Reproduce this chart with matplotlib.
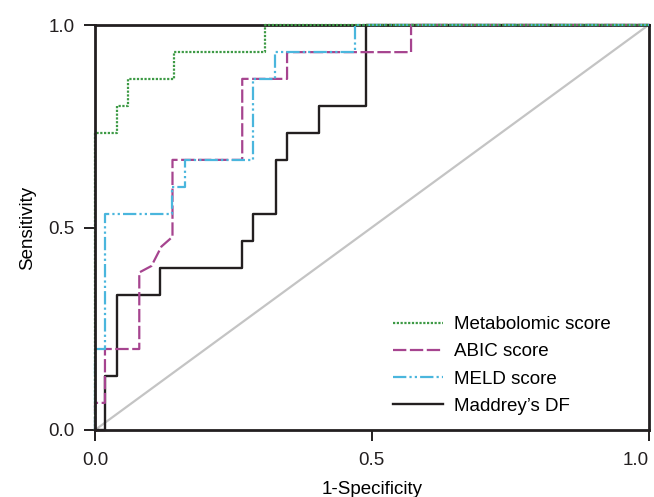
import matplotlib
matplotlib.use("Agg")
import matplotlib.pyplot as plt
from matplotlib.transforms import ScaledTranslation

plt.rcParams['font.family'] = ['Liberation Sans', 'DejaVu Sans']

# ROC curve vertices (1-Specificity, Sensitivity)
metab_fpr = [0, 0, 0.039, 0.039, 0.060, 0.060, 0.143, 0.143, 0.307, 0.307, 1.0]
metab_tpr = [0, 0.733, 0.733, 0.800, 0.800, 0.867, 0.867, 0.933, 0.933, 1.0, 1.0]

abic_fpr = [0, 0, 0.018, 0.018, 0.080, 0.080, 0.102, 0.120, 0.140, 0.140, 0.266, 0.266,
            0.347, 0.347, 0.571, 0.571, 1.0]
abic_tpr = [0, 0.067, 0.067, 0.200, 0.200, 0.389, 0.405, 0.453, 0.477, 0.667, 0.667, 0.867,
            0.867, 0.933, 0.933, 1.0, 1.0]

meld_fpr = [0, 0, 0.018, 0.018, 0.140, 0.140, 0.162, 0.162, 0.285, 0.285, 0.326, 0.326,
            0.470, 0.470, 1.0]
meld_tpr = [0, 0.200, 0.200, 0.533, 0.533, 0.600, 0.600, 0.667, 0.667, 0.867, 0.867, 0.933,
            0.933, 1.0, 1.0]

mdf_fpr = [0, 0.018, 0.018, 0.039, 0.039, 0.117, 0.117, 0.265, 0.265, 0.286, 0.286, 0.327,
           0.327, 0.347, 0.347, 0.405, 0.405, 0.489, 0.489, 1.0]
mdf_tpr = [0, 0, 0.133, 0.133, 0.333, 0.333, 0.400, 0.400, 0.467, 0.467, 0.533, 0.533,
           0.667, 0.667, 0.733, 0.733, 0.800, 0.800, 1.0, 1.0]

ref_line = [0, 1]
ticks = [0.0, 0.5, 1.0]
tick_labels = ['0.0', '0.5', '1.0']

FS = 13.5

fig = plt.figure(figsize=(6.54, 4.97), dpi=100)
ax = fig.add_axes([95/654, 67/497, 553.5/654, 405/497])

ax.plot(ref_line, ref_line, color='#c4c4c4', lw=1.6, zorder=2, solid_capstyle='butt')

l4, = ax.plot(mdf_fpr, mdf_tpr, color='#231f20', lw=1.7, zorder=3, clip_on=False,
              label="Maddrey\u2019s DF")
l2, = ax.plot(abic_fpr, abic_tpr, color='#a6448f', lw=1.6, zorder=4, clip_on=False,
              dashes=(6, 1.6), label='ABIC score')
l3, = ax.plot(meld_fpr, meld_tpr, color='#4ab6dd', lw=1.6, zorder=5, clip_on=False,
              dashes=(6, 1.4, 1, 1.4, 1, 1.4), label='MELD score')
l1, = ax.plot(metab_fpr, metab_tpr, color='#3d9a45', lw=1.6, zorder=6, clip_on=False,
              dashes=(1, 0.7), label='Metabolomic score')

ax.set_xlim(0, 1)
ax.set_ylim(0, 1)
ax.set_xticks(ticks)
ax.set_xticklabels(tick_labels)
ax.set_yticks(ticks)
ax.set_yticklabels(tick_labels)
for s in ax.spines.values():
    s.set_linewidth(2.0)
    s.set_color('#231f20')
ax.spines['left'].set_zorder(7)
ax.spines['bottom'].set_zorder(7)
ax.tick_params(direction='out', length=8, width=1.4, labelsize=FS, colors='#231f20')
ax.tick_params(axis='x', pad=7.5)
ax.tick_params(axis='y', pad=6.5)
last = ax.get_xticklabels()[-1]
last.set_transform(last.get_transform() + ScaledTranslation(-9/72, 0, fig.dpi_scale_trans))

ax.set_xlabel('1-Specificity', fontsize=FS, labelpad=9)
ax.set_ylabel('Sensitivity', fontsize=FS, labelpad=9)

leg = ax.legend(handles=[l1, l2, l3, l4], loc='upper left', bbox_to_anchor=(0.525, 0.30),
                frameon=False, fontsize=FS, handlelength=2.67, handletextpad=0.6,
                labelspacing=0.54, borderaxespad=0)

fig.savefig('out.png', dpi=100)
